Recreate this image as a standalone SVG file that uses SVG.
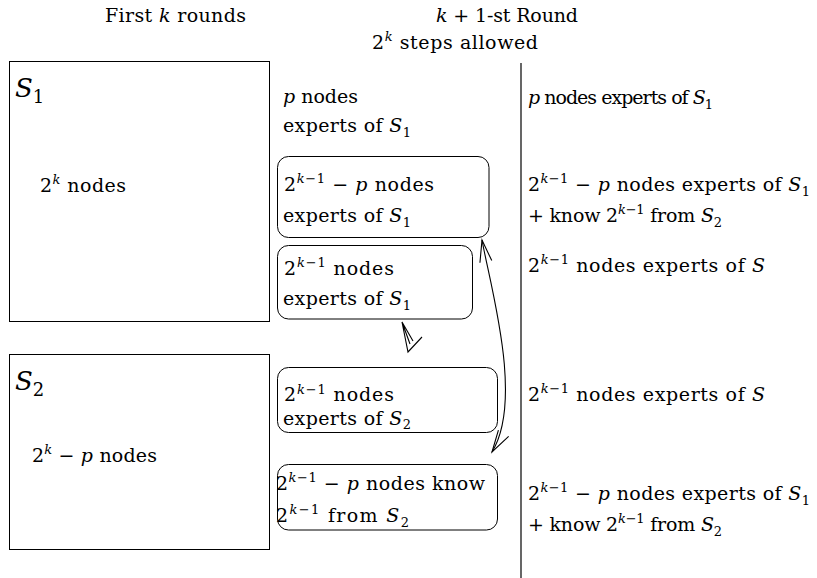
<svg xmlns="http://www.w3.org/2000/svg" width="817" height="578" viewBox="0 0 817 578">
<style>
text{font-family:'DejaVu Serif','Liberation Serif',serif;font-size:19px;fill:#000}
.big{font-size:26px}
.i{font-style:italic}
.sup{font-size:13px}
.sub{font-size:13px}
.bigsub{font-size:18px}
.box{fill:none;stroke:#000;stroke-width:1}
.conn{fill:none;stroke:#000;stroke-width:1.1}
</style>
<defs>
<marker id="open" markerUnits="userSpaceOnUse" markerWidth="30" markerHeight="20" viewBox="-24 -10 30 20" refX="0" refY="0" orient="auto-start-reverse">
<path d="M -22 -6 L 0 0 L -22 6" fill="none" stroke="#000" stroke-width="1.1"/>
</marker>
</defs>
<rect width="817" height="578" fill="#fff"/>

<g id="headers">
<text x="105" y="22" textLength="141">First <tspan class="i">k</tspan> rounds</text>
<text x="436" y="22" textLength="142"><tspan class="i">k</tspan> + 1-st Round</text>
<text x="372" y="49" textLength="166">2<tspan class="sup i" dy="-8">k</tspan><tspan dy="8"> steps allowed</tspan></text>
<line x1="521" y1="63" x2="521" y2="578" stroke="#000" stroke-width="1.2"/>
</g>

<g id="S1">
<rect class="box" x="9.5" y="61.5" width="260" height="260"/>
<text class="big" x="15" y="97"><tspan class="i">S</tspan><tspan class="bigsub" dy="6">1</tspan></text>
<text x="40" y="192" textLength="86">2<tspan class="sup i" dy="-8">k</tspan><tspan dy="8"> nodes</tspan></text>
</g>

<g id="S2">
<rect class="box" x="9.5" y="354.5" width="260" height="195"/>
<text class="big" x="15" y="390"><tspan class="i">S</tspan><tspan class="bigsub" dy="6">2</tspan></text>
<text x="32" y="462" textLength="125">2<tspan class="sup i" dy="-8">k</tspan><tspan dy="8"> − </tspan><tspan class="i">p</tspan> nodes</text>
</g>

<g id="p-nodes">
<text x="283" y="103" textLength="75"><tspan class="i">p</tspan> nodes</text>
<text x="283" y="132" textLength="128">experts of <tspan class="i">S</tspan><tspan class="sub" dy="5">1</tspan></text>
</g>

<g id="boxA">
<rect class="box" x="277.5" y="156.5" width="211.5" height="81" rx="11"/>
<text x="284" y="191" textLength="150">2<tspan class="sup i" dy="-8">k</tspan><tspan class="sup">−1</tspan><tspan dy="8"> − </tspan><tspan class="i">p</tspan> nodes</text>
<text x="283" y="222" textLength="128">experts of <tspan class="i">S</tspan><tspan class="sub" dy="5">1</tspan></text>
</g>

<g id="boxB">
<rect class="box" x="277.5" y="245.5" width="195" height="73.5" rx="11"/>
<text x="284" y="275" textLength="110">2<tspan class="sup i" dy="-8">k</tspan><tspan class="sup">−1</tspan><tspan dy="8"> nodes</tspan></text>
<text x="283" y="305" textLength="128">experts of <tspan class="i">S</tspan><tspan class="sub" dy="5">1</tspan></text>
</g>

<g id="boxC">
<rect class="box" x="277.5" y="367.5" width="220" height="65" rx="11"/>
<text x="284" y="401" textLength="110">2<tspan class="sup i" dy="-7">k</tspan><tspan class="sup">−1</tspan><tspan dy="7"> nodes</tspan></text>
<text x="283" y="425" textLength="128">experts of <tspan class="i">S</tspan><tspan class="sub" dy="4">2</tspan></text>
</g>

<g id="boxD">
<rect class="box" x="277.5" y="464.5" width="220" height="65.5" rx="11"/>
<text x="276" y="490" textLength="209">2<tspan class="sup i" dy="-8">k</tspan><tspan class="sup">−1</tspan><tspan dy="8"> − </tspan><tspan class="i">p</tspan> nodes know</text>
<text x="276" y="522" textLength="133">2<tspan class="sup i" dy="-8">k</tspan><tspan class="sup">−1</tspan><tspan dy="8"> from </tspan><tspan class="i">S</tspan><tspan class="sub" dy="5">2</tspan></text>
</g>

<g id="right-column">
<text x="528" y="104" textLength="185"><tspan class="i">p</tspan> nodes experts of <tspan class="i">S</tspan><tspan class="sub" dy="5">1</tspan></text>
<text x="528" y="191" textLength="282">2<tspan class="sup i" dy="-8">k</tspan><tspan class="sup">−1</tspan><tspan dy="8"> − </tspan><tspan class="i">p</tspan> nodes experts of <tspan class="i">S</tspan><tspan class="sub" dy="5">1</tspan></text>
<text x="528" y="222" textLength="194">+ know 2<tspan class="sup i" dy="-8">k</tspan><tspan class="sup">−1</tspan><tspan dy="8"> from </tspan><tspan class="i">S</tspan><tspan class="sub" dy="5">2</tspan></text>
<text x="528" y="272" textLength="237">2<tspan class="sup i" dy="-8">k</tspan><tspan class="sup">−1</tspan><tspan dy="8"> nodes experts of </tspan><tspan class="i">S</tspan></text>
<text x="528" y="401" textLength="237">2<tspan class="sup i" dy="-8">k</tspan><tspan class="sup">−1</tspan><tspan dy="8"> nodes experts of </tspan><tspan class="i">S</tspan></text>
<text x="528" y="500" textLength="282">2<tspan class="sup i" dy="-8">k</tspan><tspan class="sup">−1</tspan><tspan dy="8"> − </tspan><tspan class="i">p</tspan> nodes experts of <tspan class="i">S</tspan><tspan class="sub" dy="5">1</tspan></text>
<text x="528" y="531" textLength="194">+ know 2<tspan class="sup i" dy="-8">k</tspan><tspan class="sup">−1</tspan><tspan dy="8"> from </tspan><tspan class="i">S</tspan><tspan class="sub" dy="5">2</tspan></text>
</g>

<g id="connectors">
<path class="conn" d="M 482 240 C 490 285, 524 400, 492 452" marker-start="url(#open)" marker-end="url(#open)"/>
<path class="conn" d="M 402 322 L 408 352 L 422 337 M 402 322 L 410 344 M 402 322 L 413 341"/>
</g>
</svg>
